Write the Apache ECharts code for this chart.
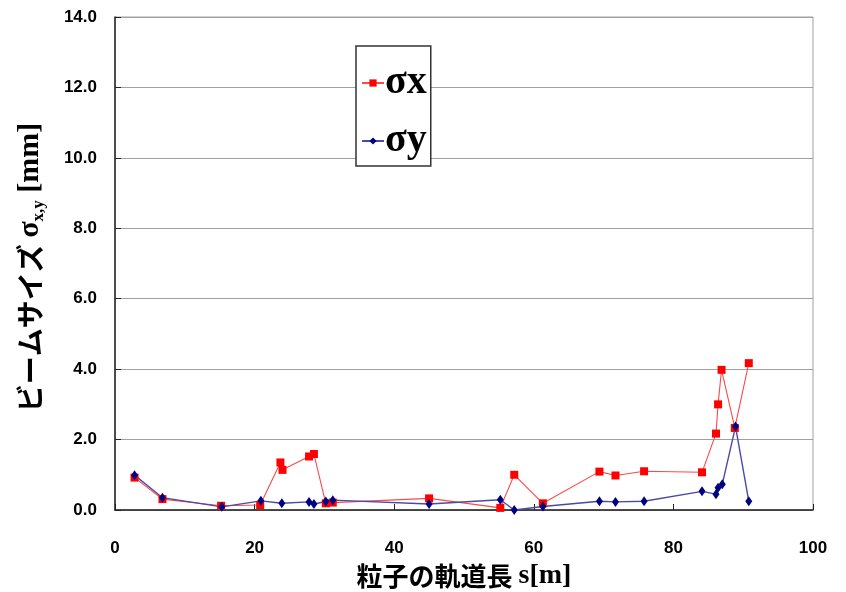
<!DOCTYPE html>
<html>
<head>
<meta charset="utf-8">
<script src="https://cdn.jsdelivr.net/npm/echarts@6/dist/echarts.min.js"></script>
<style>
html,body{margin:0;padding:0;background:#fff;}
#chart{width:846px;height:592px;}
</style>
</head>
<body>
<div id="chart"></div>
<script>
// σx data: orbit length s [m] and beam size [mm]
const sxS = [2.8, 6.8, 15.2, 20.8, 23.7, 24.0, 27.8, 28.5, 30.2, 31.2, 45.0, 55.2, 57.2, 61.3, 69.4, 71.7, 75.8, 84.1, 86.1, 86.4, 86.9, 88.8, 90.8];
const sxV = [0.92, 0.31, 0.12, 0.14, 1.35, 1.14, 1.52, 1.59, 0.19, 0.21, 0.33, 0.06, 1.0, 0.19, 1.09, 0.98, 1.1, 1.07, 2.17, 3.0, 3.98, 2.33, 4.17];
// σy data
const syS = [2.8, 6.8, 15.3, 20.9, 23.9, 27.8, 28.5, 30.2, 31.2, 45.0, 55.2, 57.2, 61.3, 69.4, 71.7, 75.8, 84.1, 86.1, 86.4, 87.0, 88.9, 90.8];
const syV = [0.99, 0.35, 0.09, 0.26, 0.19, 0.23, 0.17, 0.24, 0.28, 0.17, 0.29, 0.0, 0.1, 0.25, 0.23, 0.25, 0.53, 0.45, 0.63, 0.73, 2.37, 0.25];
const seriesNames = ['σx', 'σy'];
const xTitle = '粒子の軌道長 ';
const xUnit = 's[m]';
const yTitle = 'ビームサイズ ';

const pairs = (a, b) => a.map((v, i) => [v, b[i]]);
const chart = echarts.init(document.getElementById('chart'), null, {renderer: 'canvas'});
const tickFont = {fontFamily: 'Liberation Sans, Arial, sans-serif', fontWeight: 'bold', fontSize: 17, color: '#000'};
chart.setOption({
  animation: false,
  backgroundColor: '#fff',
  grid: {left: 115, right: 33, top: 17, bottom: 82, outerBoundsMode: 'none', containLabel: false,
         show: true, borderColor: '#a0a0a0', borderWidth: 1, backgroundColor: '#fff'},
  legend: {
    orient: 'vertical', left: 356, top: 46,
    padding: [17, 4, 5, 5], itemGap: 18,
    backgroundColor: '#fff', borderColor: '#333', borderWidth: 1.5,
    itemWidth: 22, itemHeight: 9, itemStyle: {borderWidth: 0},
    data: seriesNames,
    textStyle: {fontFamily: 'Liberation Serif, Times New Roman, serif', fontWeight: 'bold', fontSize: 40, color: '#000', padding: [0, 0, 0, -4]}
  },
  xAxis: {
    type: 'value', min: 0, max: 100, interval: 20,
    name: '{a|' + xTitle + '}{b|' + xUnit + '}', nameLocation: 'middle', nameGap: 51,
    nameTextStyle: {rich: {
      a: {fontFamily: 'Noto Sans CJK JP', fontWeight: 'bold', fontSize: 26, color: '#000'},
      b: {fontFamily: 'Liberation Serif', fontWeight: 'bold', fontSize: 28, color: '#000'}
    }},
    axisLine: {lineStyle: {color: '#222', width: 1.5}},
    axisTick: {inside: true, length: 6, lineStyle: {color: '#222'}},
    axisLabel: Object.assign({margin: 30}, tickFont),
    splitLine: {show: false}
  },
  yAxis: {
    type: 'value', min: 0, max: 14, interval: 2,
    name: '{a|' + yTitle + '}{b|σ}{c|x,y}{b| [mm]}', nameLocation: 'middle', nameGap: 68, nameRotate: 90,
    nameTextStyle: {padding: [0, 8, 0, 0], rich: {
      a: {fontFamily: 'Noto Sans CJK JP', fontWeight: 'bold', fontSize: 28, color: '#000', lineHeight: 34},
      b: {fontFamily: 'Liberation Serif', fontWeight: 'bold', fontSize: 30, color: '#000', lineHeight: 34},
      c: {fontFamily: 'Liberation Serif', fontWeight: 'bold', fontSize: 17, color: '#000', lineHeight: 17, verticalAlign: 'bottom'}
    }},
    axisLine: {show: true, lineStyle: {color: '#222', width: 1.5}},
    axisTick: {show: true, inside: true, length: 6, lineStyle: {color: '#222'}},
    axisLabel: Object.assign({margin: 18, formatter: v => v.toFixed(1)}, tickFont),
    splitLine: {show: true, lineStyle: {color: '#a0a0a0', width: 1.2}}
  },
  series: [
    {name: seriesNames[0], type: 'line', data: pairs(sxS, sxV), symbol: 'rect', symbolSize: 8,
     lineStyle: {color: '#ff4848', width: 1.1}, itemStyle: {color: '#ff0000'}},
    {name: seriesNames[1], type: 'line', data: pairs(syS, syV), symbol: 'diamond', symbolSize: [7, 10],
     lineStyle: {color: '#4a4aa8', width: 1.4}, itemStyle: {color: '#000080'}}
  ]
});
</script>
</body>
</html>
